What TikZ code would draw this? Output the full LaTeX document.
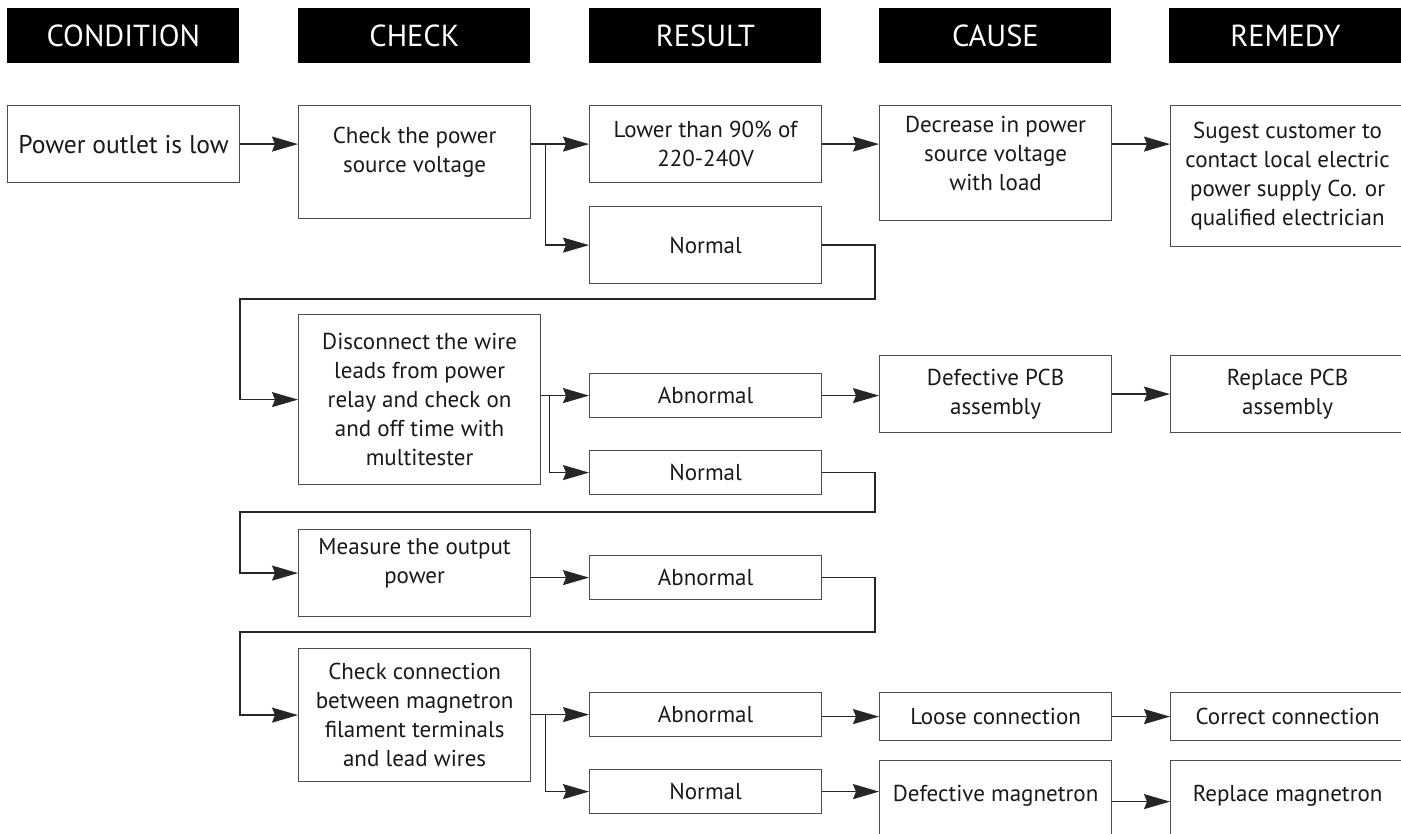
\documentclass[tikz,border=0pt]{standalone}
\usepackage{fontspec}
\setmainfont{PT Sans}
\usetikzlibrary{positioning,calc,arrows.meta}

\tikzset{
  head/.style={fill=black, text=white, anchor=north west, minimum width=116pt, minimum height=27.5pt, inner sep=0pt, font=\fontsize{15.2}{17}\selectfont},
  box/.style={draw=black!70, line width=0.6pt, anchor=north west, minimum width=116pt, align=center, inner sep=2pt, text=black!90, font=\fontsize{11.5}{14.5}\selectfont},
  arr/.style={draw=black!85, line width=0.7pt, -{Stealth[length=13pt,width=7.5pt,inset=1.5pt]}}
}

\begin{document}
\begin{tikzpicture}[x=0.5pt, y=-0.5pt]
    \useasboundingbox (0,0) rectangle (1401,834);
    \clip (0,0) rectangle (1401,834);

    % column heads
    \node[head] (hcond) at (7,8) {CONDITION};
    \node[head] (hchk) at (298,8) {CHECK};
    \node[head] (hres) at (589,8) {RESULT};
    \node[head] (hcau) at (879,8) {CAUSE};
    \node[head] (hrem) at (1169,8) {REMEDY};

    % power source
    \node[box, minimum height=38.5pt, font=\fontsize{12.8}{15}\selectfont] (cond) at (7,105) {Power outlet is low};
    \node[box, minimum height=56.5pt] (chk1) at (298,105) {Check the power\\source voltage\\[-2pt]\mbox{}};
    \node[box, minimum height=38.5pt] (res1a) at (589,105) {Lower than 90\% of\\220-240V};
    \node[box, minimum height=38.5pt] (res1b) at (589,206) {Normal};
    \node[box, minimum height=57.5pt] (cau1) at (879,105) {Decrease in power\\source voltage\\with load\\[-5pt]\mbox{}};
    \node[box, minimum width=117pt, minimum height=70.5pt] (rem1) at (1170,105) {Sugest customer to\\contact local electric\\power supply Co. or\\qualified electrician};

    % power relay
    \node[box, minimum width=121pt, minimum height=85pt] (chk2) at (298,314) {Disconnect the wire\\leads from power\\relay and check on\\and off time with\\multitester};
    \node[box, minimum height=22pt] (res2a) at (589,373) {Abnormal};
    \node[box, minimum height=22pt] (res2b) at (589,450) {Normal};
    \node[box, minimum height=38.5pt] (cau2) at (879,355) {Defective PCB\\assembly};
    \node[box, minimum width=117pt, minimum height=38.5pt] (rem2) at (1170,355) {Replace PCB\\assembly};

    % output power
    \node[box, minimum height=43.5pt] (chk3) at (298,529) {Measure the output\\power\\[-2pt]\mbox{}};
    \node[box, minimum height=22pt] (res3) at (589,555) {Abnormal};

    % magnetron
    \node[box, minimum height=66.5pt] (chk4) at (298,648) {Check connection\\between magnetron\\filament terminals\\and lead wires};
    \node[box, minimum height=22pt] (res4a) at (589,692) {Abnormal};
    \node[box, minimum height=22pt] (res4b) at (589,769) {Normal};
    \node[box, minimum height=24pt] (cau4a) at (879,692) {Loose connection};
    \node[box, minimum width=117pt, minimum height=24pt] (rem4a) at (1170,692) {Correct connection};
    \node[box, text height=18.5pt, text depth=37pt] (cau4b) at (879,760) {Defective magnetron};
    \node[box, minimum width=117pt, text height=18.5pt, text depth=37pt] (rem4b) at (1170,760) {Replace magnetron};

    % branch points
    \coordinate (br1) at ($(chk1.east |- res1a.west)+(7pt,0)$);
    \coordinate (br2) at ($(chk2.east |- res2a.west)+(4pt,0)$);
    \coordinate (br4) at ($(chk4.east |- res4a.west)+(7pt,0)$);

    \draw[arr] (cond.east) -- (cond.east -| chk1.west);
    \draw[arr] (chk1.east |- res1a.west) -- (res1a.west);
    \draw[arr] (br1) |- (res1b.west);
    \draw[arr] (res1a.east) -- (res1a.east -| cau1.west);
    \draw[arr] (cau1.east |- res1a.east) -- (rem1.west |- res1a.east);
    \draw[arr] (res1b.east) -| (875,299) -- (240,299) |- (chk2.west);

    \draw[arr] (chk2.east |- res2a.west) -- (res2a.west);
    \draw[arr] (br2) |- (res2b.west);
    \draw[arr] (res2a.east) -- (res2a.east -| cau2.west);
    \draw[arr] (cau2.east) -- (rem2.west);
    \draw[arr] (res2b.east) -| (875,512) -- (240,512) |- (chk3.west);

    \draw[arr] (chk3.east |- res3.west) -- (res3.west);
    \draw[arr] (res3.east) -| (875,632) -- (240,632) |- (chk4.west);

    \draw[arr] (chk4.east |- res4a.west) -- (res4a.west);
    \draw[arr] (br4) |- (res4b.west);
    \draw[arr] (res4a.east |- cau4a.west) -- (cau4a.west);
    \draw[arr] (cau4a.east) -- (rem4a.west);
    \draw[arr] (res4b.east) -- (res4b.east -| cau4b.west);
    \draw[arr] (cau4b.base east) -- (cau4b.base east -| rem4b.west);
\end{tikzpicture}
\end{document}
